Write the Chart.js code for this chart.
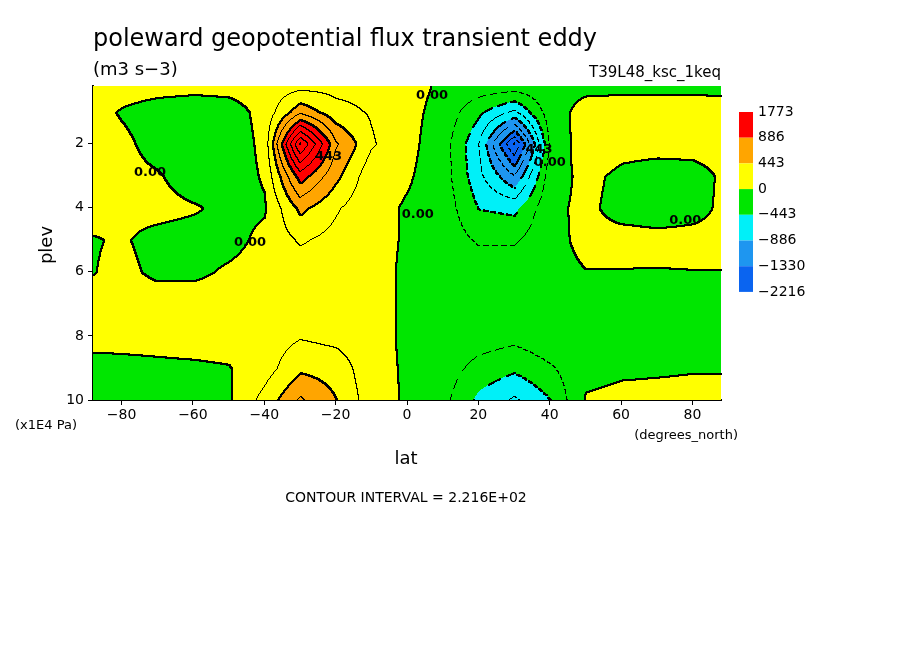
<!DOCTYPE html>
<html><head><meta charset="utf-8">
<script src="https://cdn.jsdelivr.net/npm/chart.js@4"></script>
<style>body{margin:0;background:#fff}#w{position:relative;width:904px;height:654px}</style>
</head><body><div id="w"><canvas id="c" width="904" height="654"></canvas></div>
<script>
const lats=[-90,-80,-70,-60,-50,-40,-30,-20,-10,0,10,20,30,40,50,60,70,80,90];
const levs=[0.2,1,2,3,4,5,6,7,8,9,10];
const v02=[100,100,80,60,60,80,150,150,150,60,-30,-80,-100,-50,-50,-50,-50,-50,-50];
const v1=[100,-20,-100,-120,-80,60,600,300,200,50,-60,-400,-700,-100,80,100,100,100,80];
const v2=[100,50,-80,-150,-120,50,1800,700,250,50,-100,-650,-1800,-200,150,80,80,80,80];
const v3=[100,60,20,-100,-100,20,1000,500,80,20,-100,-600,-1100,-100,60,-50,-100,-80,50];
const v4=[80,40,60,20,-50,-20,500,250,60,-20,-80,-450,-500,-50,50,-80,-100,-60,50];
const v5=[-20,20,-60,-80,-60,50,250,150,60,-20,-80,-250,-250,-60,50,80,60,60,50];
const v6=[-20,50,-40,-40,30,80,100,80,60,-30,-60,-100,-80,-60,-5,-10,-10,-5,-5];
const v7=[80,90,100,100,100,100,100,90,80,-40,-50,-60,-60,-50,-50,-50,-50,-50,-50];
const v8=[60,60,70,80,80,100,200,150,80,-40,-60,-100,-150,-60,-60,-60,-60,-60,-60];
const v9=[-60,-50,-40,-30,-10,120,400,350,80,-30,-100,-300,-400,-250,-60,-30,-20,-10,-10];
const v10=[-100,-100,-80,-60,-30,300,700,450,100,-30,-150,-500,-700,-450,20,50,50,50,50];
const grid=[v02,v1,v2,v3,v4,v5,v6,v7,v8,v9,v10];
const bounds=[-2216,-1330,-886,-443,0,443,886,1773];
const colors=['#0a64f0','#1e96f0','#00f0f8','#00e600','#ffff00','#ffa500','#ff0000'];
const xTicks=[-80,-60,-40,-20,0,20,40,60,80];
const yTicks=[2,4,6,8,10];
const cint=221.6;
const labels=[['0.00',-72,2.9],['0.00',-44,5.1],['0.00',7,0.5],['0.00',3,4.2],['0.00',40,2.6],['0.00',78,4.4],['443',-22,2.4],['443',37,2.2]];

function val(lat,p){
  let i=Math.min(lats.length-2,Math.max(0,Math.floor((lat+90)/10)));
  let tx=(lat-lats[i])/10;
  let j=0;while(j<levs.length-2&&p>levs[j+1])j++;
  let ty=(p-levs[j])/(levs[j+1]-levs[j]);
  const a=grid[j][i],b=grid[j][i+1],c=grid[j+1][i],d=grid[j+1][i+1];
  return (a*(1-tx)+b*tx)*(1-ty)+(c*(1-tx)+d*tx)*ty;
}
function cls(v){let k=0;while(k<bounds.length-2&&v>bounds[k+1])k++;return k;}

const field={id:'field',beforeDatasetsDraw(ch){
  const ctx=ch.ctx,a=ch.chartArea,xs=ch.scales.x,ys=ch.scales.y;
  const W=Math.round(a.right-a.left),H=Math.round(a.bottom-a.top);
  const V=[];
  for(let y=0;y<=H;y++){const row=[];const p=ys.getValueForPixel(a.top+y);
    for(let x=0;x<=W;x++)row.push(val(xs.getValueForPixel(a.left+x),p));V.push(row);}
  ctx.save();
  for(let y=0;y<H;y++){let x0=0,c0=cls(V[y][0]);
    for(let x=1;x<=W;x++){const c=x<W?cls(V[y][x]):-1;
      if(c!==c0){ctx.fillStyle=colors[c0];ctx.fillRect(a.left+x0,a.top+y,x-x0,1);x0=x;c0=c;}}}
  ctx.fillStyle='#000';
  for(let y=0;y<H;y++)for(let x=0;x<W;x++){
    const v=V[y][x],l=Math.floor(v/cint);
    const r=V[y][x+1],d=V[y+1][x];
    if(l!==Math.floor(r/cint)||l!==Math.floor(d/cint)){
      const major=cls(v)!==cls(r)||cls(v)!==cls(d);
      const neg=v<0&&r<0&&d<0;
      if(neg&&((x+y)%9)>5)continue;
      ctx.fillRect(a.left+x,a.top+y,major?2:1,major?2:1);}
  }
  ctx.font='bold 13px "DejaVu Sans"';ctx.textAlign='center';ctx.textBaseline='middle';
  for(const [t,la,p] of labels)ctx.fillText(t,xs.getPixelForValue(la),ys.getPixelForValue(p));
  ctx.restore();
},afterDraw(ch){
  const ctx=ch.ctx;ctx.save();
  const bx=739,bw=14,top=112,h=25.7;
  ctx.font='14px "DejaVu Sans"';ctx.textBaseline='middle';
  for(let k=0;k<colors.length;k++){ctx.fillStyle=colors[colors.length-1-k];ctx.fillRect(bx,top+k*h,bw,h);}
  ctx.fillStyle='#000';
  for(let k=0;k<bounds.length;k++)ctx.fillText(String(bounds[bounds.length-1-k]).replace('-','\u2212'),758,top+k*h);
  ctx.restore();
}};

new Chart(document.getElementById('c'),{type:'scatter',data:{datasets:[{data:[]}]},
options:{responsive:false,animation:false,
layout:{padding:{top:86,right:183,left:0,bottom:0}},
plugins:{legend:{display:false},tooltip:{enabled:false},title:{display:false}},
scales:{
 x:{type:'linear',min:-88,max:88,afterBuildTicks(s){s.ticks=xTicks.map(v=>({value:v}));},
  afterFit(s){s.height=254;},
  ticks:{color:'#000',font:{size:14,family:'DejaVu Sans'},padding:2,callback:v=>String(v).replace('-','\u2212')},
  grid:{drawOnChartArea:false,color:'#000',tickLength:5},border:{color:'#000',width:2}},
 y:{type:'linear',reverse:true,min:0.2,max:10,afterBuildTicks(s){s.ticks=yTicks.map(v=>({value:v}));},
  afterFit(s){s.width=93;},
  ticks:{color:'#000',font:{size:14,family:'DejaVu Sans'},padding:4},
  grid:{drawOnChartArea:false,color:'#000',tickLength:5},border:{color:'#000',width:2}}
}},plugins:[field,{id:'txt',afterDraw(ch){
 const ctx=ch.ctx;ctx.save();ctx.fillStyle='#000';ctx.textBaseline='alphabetic';
 ctx.font='24px "DejaVu Sans"';ctx.fillText('poleward geopotential flux transient eddy',93,46);
 ctx.font='18px "DejaVu Sans"';ctx.fillText('(m3 s\u22123)',93,75);
 ctx.font='15px "DejaVu Sans"';ctx.textAlign='right';ctx.fillText('T39L48_ksc_1keq',721,77);
 ctx.font='13px "DejaVu Sans"';ctx.fillText('(degrees_north)',738,439);
 ctx.textAlign='left';ctx.fillText('(x1E4 Pa)',15,429);
 ctx.font='18px "DejaVu Sans"';ctx.textAlign='center';ctx.fillText('lat',406,464);
 ctx.font='14px "DejaVu Sans"';ctx.fillText('CONTOUR INTERVAL = 2.216E+02',406,502);
 ctx.translate(52,245);ctx.rotate(-Math.PI/2);ctx.font='18px "DejaVu Sans"';ctx.fillText('plev',0,0);
 ctx.restore();}}]});
</script></body></html>
